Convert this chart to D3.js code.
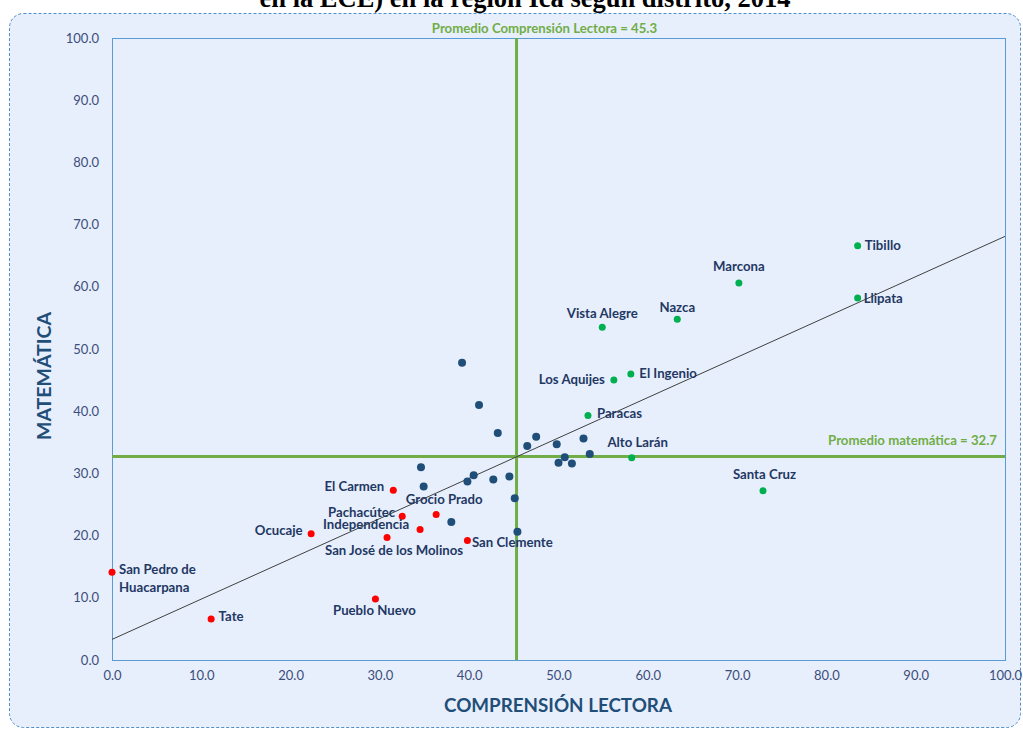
<!DOCTYPE html>
<html>
<head>
<meta charset="utf-8">
<script src="https://cdn.jsdelivr.net/npm/d3@7"></script>
<style>
  html, body { margin: 0; padding: 0; background: #ffffff; }
  svg { display: block; }
  .tick text { font-family: Lato, "Open Sans", sans-serif; font-size: 13px; fill: #3b4d7a; }
</style>
</head>
<body>
<svg id="chart" width="1023" height="729"></svg>
<script>
// Distritos con resultados altos (verde)
const altoDistritos = ["Tibillo", "Llipata", "Marcona", "Nazca", "Vista Alegre", "El Ingenio", "Los Aquijes", "Paracas", "Alto Larán", "Santa Cruz"];
const altoLectora   = [83.5, 83.5, 70.2, 63.3, 54.9, 58.1, 56.2, 53.3, 58.2, 72.9];
const altoMatematica = [66.6, 58.2, 60.6, 54.8, 53.5, 46.0, 45.0, 39.3, 32.5, 27.2];

// Distritos con resultados bajos (rojo)
const bajoDistritos = ["San Pedro de Huacarpana", "Tate", "Ocucaje", "El Carmen", "Pachacútec", "Grocio Prado", "Independencia", "San José de los Molinos", "San Clemente", "Pueblo Nuevo"];
const bajoLectora   = [0.0, 11.1, 22.3, 31.5, 32.5, 36.3, 34.5, 30.8, 39.8, 29.5];
const bajoMatematica = [14.1, 6.6, 20.3, 27.3, 23.1, 23.4, 21.0, 19.7, 19.2, 9.8];

// Resto de distritos (azul, sin etiqueta)
const restoLectora   = [39.2, 41.1, 43.2, 46.5, 47.5, 49.8, 52.8, 53.5, 50.7, 50.0, 51.5, 34.6, 34.9, 40.5, 39.8, 42.7, 44.5, 45.1, 38.0, 45.4];
const restoMatematica = [47.8, 41.0, 36.5, 34.4, 35.9, 34.7, 35.6, 33.1, 32.6, 31.7, 31.6, 31.0, 27.9, 29.7, 28.7, 29.0, 29.5, 26.0, 22.2, 20.6];

// Promedios regionales
const promedioLectora = 45.3;
const promedioMatematica = 32.7;

const axisTicks = [0, 10, 20, 30, 40, 50, 60, 70, 80, 90, 100];

// Ubicación de cada etiqueta respecto a su punto: [dx, dy, anchor]
const labelLayout = {
  "Tibillo": [7, -1, "start"],
  "Llipata": [6, 0, "start"],
  "Marcona": [0, -17, "middle"],
  "Nazca": [0, -12, "middle"],
  "Vista Alegre": [0, -14, "middle"],
  "El Ingenio": [8.5, -0.5, "start"],
  "Los Aquijes": [-9, -1.5, "end"],
  "Paracas": [9, -2.5, "start"],
  "Alto Larán": [6, -16, "middle"],
  "Santa Cruz": [1.5, -16.5, "middle"],
  "San Pedro de Huacarpana": [7, -3, "start"],
  "Tate": [7.5, -2.5, "start"],
  "Ocucaje": [-8.5, -3.5, "end"],
  "El Carmen": [-9, -4.5, "end"],
  "Pachacútec": [-7, -4.5, "end"],
  "Grocio Prado": [8, -15.5, "middle"],
  "Independencia": [-11, -5, "end"],
  "San José de los Molinos": [7, 12.5, "middle"],
  "San Clemente": [4.5, 1.5, "start"],
  "Pueblo Nuevo": [-1, 10.5, "middle"]
};

const svg = d3.select("#chart");

const x = d3.scaleLinear().domain([0, 100]).range([112, 1005]);
const y = d3.scaleLinear().domain([0, 100]).range([660, 38]);

// Título (segunda línea visible)
svg.append("text")
  .attr("x", 525).attr("y", 7)
  .attr("text-anchor", "middle")
  .style("font-family", "'Liberation Serif', 'Times New Roman', serif")
  .style("font-weight", "bold")
  .style("font-size", "26.5px")
  .style("fill", "#000")
  .text("en la ECE) en la región Ica según distrito, 2014");

// Área del gráfico con borde discontinuo
svg.append("rect")
  .attr("x", 9.5).attr("y", 13.5)
  .attr("width", 1011).attr("height", 714)
  .attr("rx", 14).attr("ry", 14)
  .attr("fill", "#e8effc")
  .attr("stroke", "#4f8fcc")
  .attr("stroke-width", 1)
  .attr("stroke-dasharray", "3,2");

// Área de trazado
svg.append("rect")
  .attr("x", x(0) + 0.5).attr("y", y(100) + 0.5)
  .attr("width", x(100) - x(0)).attr("height", y(0) - y(100))
  .attr("fill", "none")
  .attr("stroke", "#5b9bd5")
  .attr("stroke-width", 1);

// Ejes
const fmt = d3.format(".1f");
svg.append("g")
  .attr("transform", `translate(0,${y(0)})`)
  .call(d3.axisBottom(x).tickValues(axisTicks).tickFormat(fmt).tickSize(0).tickPadding(11))
  .call(g => g.select(".domain").remove());
svg.append("g")
  .attr("transform", `translate(${x(0)},0)`)
  .call(d3.axisLeft(y).tickValues(axisTicks).tickFormat(fmt).tickSize(0).tickPadding(13))
  .call(g => g.select(".domain").remove());

// Títulos de ejes
svg.append("text")
  .attr("x", 558).attr("y", 712)
  .attr("text-anchor", "middle")
  .style("font-family", "Lato, 'Open Sans', sans-serif")
  .style("font-weight", "bold")
  .style("font-size", "18.8px")
  .style("fill", "#1f4e79")
  .text("COMPRENSIÓN LECTORA");
svg.append("text")
  .attr("transform", "translate(51,376) rotate(-90)")
  .attr("text-anchor", "middle")
  .style("font-family", "Lato, 'Open Sans', sans-serif")
  .style("font-weight", "bold")
  .style("font-size", "19.5px")
  .style("fill", "#1f4e79")
  .text("MATEMÁTICA");

// Líneas de promedio
const green = "#70ad47";
svg.append("line")
  .attr("x1", x(promedioLectora)).attr("x2", x(promedioLectora))
  .attr("y1", y(100)).attr("y2", y(0))
  .attr("stroke", green).attr("stroke-width", 3);
svg.append("line")
  .attr("x1", x(0)).attr("x2", x(100))
  .attr("y1", y(promedioMatematica)).attr("y2", y(promedioMatematica))
  .attr("stroke", green).attr("stroke-width", 3);

svg.append("text")
  .attr("x", 544.5).attr("y", 28)
  .attr("text-anchor", "middle").attr("dominant-baseline", "central")
  .style("font-family", "Lato, 'Open Sans', sans-serif")
  .style("font-weight", "bold").style("font-size", "13.2px")
  .style("fill", green)
  .text(`Promedio Comprensión Lectora = ${promedioLectora.toFixed(1)}`);
svg.append("text")
  .attr("x", 997).attr("y", y(promedioMatematica) - 17)
  .attr("text-anchor", "end").attr("dominant-baseline", "central")
  .style("font-family", "Lato, 'Open Sans', sans-serif")
  .style("font-weight", "bold").style("font-size", "13.2px")
  .style("fill", green)
  .text(`Promedio matemática = ${promedioMatematica.toFixed(1)}`);

// Recta de tendencia (mínimos cuadrados sobre todos los distritos)
const allX = altoLectora.concat(bajoLectora, restoLectora);
const allY = altoMatematica.concat(bajoMatematica, restoMatematica);
const mx = d3.mean(allX), my = d3.mean(allY);
const sxy = d3.sum(allX, (v, i) => (v - mx) * (allY[i] - my));
const sxx = d3.sum(allX, v => (v - mx) * (v - mx));
const slope = sxy / sxx, intercept = my - slope * mx;
svg.append("line")
  .attr("x1", x(0)).attr("y1", y(intercept))
  .attr("x2", x(100)).attr("y2", y(intercept + slope * 100))
  .attr("stroke", "#404040").attr("stroke-width", 1);

// Puntos
const pts = svg.append("g");
pts.selectAll("circle.resto")
  .data(restoLectora.map((v, i) => [v, restoMatematica[i]]))
  .join("circle").attr("class", "resto")
  .attr("cx", d => x(d[0])).attr("cy", d => y(d[1]))
  .attr("r", 4).attr("fill", "#1f4e79");
pts.selectAll("circle.bajo")
  .data(bajoLectora.map((v, i) => [v, bajoMatematica[i]]))
  .join("circle").attr("class", "bajo")
  .attr("cx", d => x(d[0])).attr("cy", d => y(d[1]))
  .attr("r", 3.5).attr("fill", "#ff0000");
pts.selectAll("circle.alto")
  .data(altoLectora.map((v, i) => [v, altoMatematica[i]]))
  .join("circle").attr("class", "alto")
  .attr("cx", d => x(d[0])).attr("cy", d => y(d[1]))
  .attr("r", 3.5).attr("fill", "#00b050");

// Etiquetas de distritos
const labeled = altoDistritos.map((n, i) => ({ n, cx: altoLectora[i], cy: altoMatematica[i] }))
  .concat(bajoDistritos.map((n, i) => ({ n, cx: bajoLectora[i], cy: bajoMatematica[i] })));
const lab = svg.append("g")
  .style("font-family", "Lato, 'Open Sans', sans-serif")
  .style("font-weight", "bold")
  .style("font-size", "13.2px")
  .style("fill", "#1f3864");
labeled.forEach(d => {
  const [dx, dy, anchor] = labelLayout[d.n];
  const t = lab.append("text")
    .attr("text-anchor", anchor)
    .attr("dominant-baseline", "central");
  if (d.n === "San Pedro de Huacarpana") {
    t.append("tspan").attr("x", x(d.cx) + dx).attr("y", y(d.cy) + dy).text("San Pedro de");
    t.append("tspan").attr("x", x(d.cx) + dx).attr("y", y(d.cy) + dy + 17.5).text("Huacarpana");
  } else {
    t.attr("x", x(d.cx) + dx).attr("y", y(d.cy) + dy).text(d.n);
  }
});
</script>
</body>
</html>
